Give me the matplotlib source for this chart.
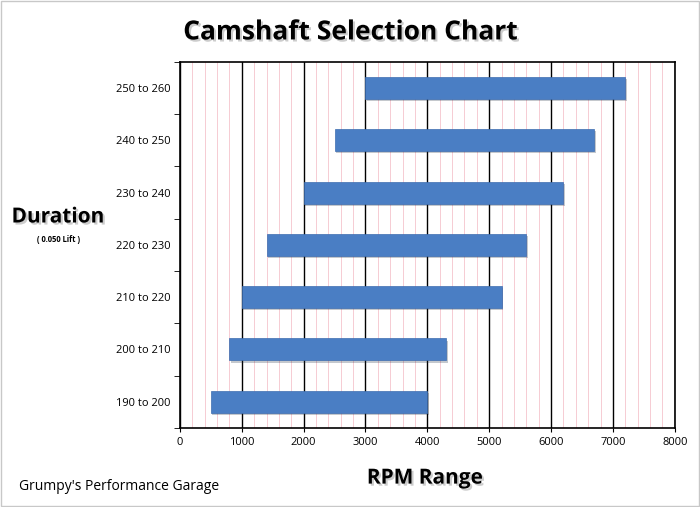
import matplotlib.pyplot as plt
import matplotlib.patheffects as pe
from matplotlib.ticker import MultipleLocator

plt.rcParams['font.family'] = ['Open Sans', 'DejaVu Sans']

durations = ['190 to 200', '200 to 210', '210 to 220', '220 to 230',
             '230 to 240', '240 to 250', '250 to 260']
rpm_low = [500, 800, 1000, 1400, 2000, 2500, 3000]
rpm_high = [4000, 4300, 5200, 5600, 6200, 6700, 7200]

fig = plt.figure(figsize=(7, 5.07), dpi=100)
ax = fig.add_axes([0.257, 0.156, 0.707, 0.722])

shadow = [pe.SimplePatchShadow(offset=(1.2, -1.5), alpha=0.25), pe.Normal()]
for i, (lo, hi) in enumerate(zip(rpm_low, rpm_high)):
    ax.barh(i, hi - lo, left=lo, height=0.42, color='#4a7ec4',
            edgecolor='#3d6db0', linewidth=0.5, zorder=3,
            path_effects=shadow)

ax.set_xlim(0, 8000)
ax.set_ylim(-0.5, len(durations) - 0.5)
ax.xaxis.set_major_locator(MultipleLocator(1000))
ax.xaxis.set_minor_locator(MultipleLocator(200))
ax.grid(axis='x', which='major', color='black', linewidth=1.0, zorder=1)
ax.grid(axis='x', which='minor', color='#f6ccd3', linewidth=0.7, zorder=0)
ax.tick_params(axis='x', which='minor', length=0)
ax.tick_params(axis='x', which='major', labelsize=8, length=3)

ax.set_yticks(range(len(durations)))
ax.set_yticklabels(durations, fontsize=8)
ax.set_yticks([i - 0.5 for i in range(len(durations) + 1)], minor=True)
ax.tick_params(axis='y', which='major', length=0, pad=7)
ax.tick_params(axis='y', which='minor', length=4)

for s in ax.spines.values():
    s.set_linewidth(1.2)

txt_shadow = [pe.withSimplePatchShadow(offset=(1.5, -1.5), alpha=0.2)]
fig.text(0.5, 0.937, 'Camshaft Selection Chart', ha='center', va='center',
         fontsize=19, fontweight='bold', path_effects=txt_shadow)
fig.text(0.083, 0.572, 'Duration', ha='center', va='center',
         fontsize=15, fontweight='bold', path_effects=txt_shadow)
fig.text(0.083, 0.528, '( 0.050 Lift )', ha='center', va='center',
         fontsize=5.5, fontweight='bold')
fig.text(0.607, 0.057, 'RPM Range', ha='center', va='center',
         fontsize=15, fontweight='bold', path_effects=txt_shadow)
fig.text(0.027, 0.04, "Grumpy's Performance Garage", ha='left', va='center',
         fontsize=10)

fig.patches.append(plt.Rectangle((0.002, 0.002), 0.996, 0.996,
                                 transform=fig.transFigure, fill=False,
                                 edgecolor='#c8c8c8', linewidth=1))

fig.savefig('out.png', dpi=100)
